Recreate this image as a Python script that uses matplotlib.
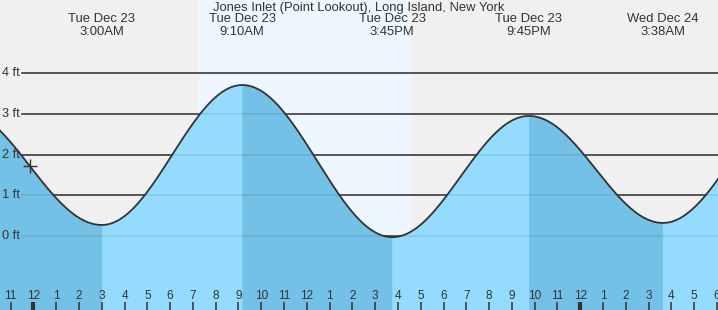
import numpy as np
import matplotlib
matplotlib.use("Agg")
import matplotlib.pyplot as plt

plt.rcParams['font.family'] = ['Liberation Sans', 'DejaVu Sans']

# Tide extremes, hours from midnight Tue Dec 23 (first and last are off-chart)
ext_hours = [-3.3, 3.0, 9.1667, 15.75, 21.75, 27.633, 33.8]
ext_feet = [3.15, 0.27, 3.71, -0.03, 2.95, 0.32, 3.55]
ext_dates = ["", "Tue Dec 23", "Tue Dec 23", "Tue Dec 23", "Tue Dec 23", "Wed Dec 24", ""]
ext_times = ["", "3:00AM", "9:10AM", "3:45PM", "9:45PM", "3:38AM", ""]

title = "Jones Inlet (Point Lookout), Long Island, New York"
sunrise, sunset = 7.265, 16.53
now_hour = -0.15
ft_levels = [0, 1, 2, 3, 4]
x_min, x_max = -1.47, 30.05
y_min, y_max = -1.82, 5.80

night_bg = "#f0f0f0"
day_bg = "#eef7ff"
rise_col = "#95dbfd"
fall_col = "#73c1e6"
ink = "#333333"


def tide(t):
    t = np.asarray(t, dtype=float)
    out = np.zeros_like(t)
    for i in range(len(ext_hours) - 1):
        t0, t1 = ext_hours[i], ext_hours[i + 1]
        h0, h1 = ext_feet[i], ext_feet[i + 1]
        m = (t >= t0) & (t <= t1)
        f = (t[m] - t0) / (t1 - t0)
        out[m] = h0 + (h1 - h0) * (1 - np.cos(np.pi * f)) / 2
    return out


fig = plt.figure(figsize=(7.18, 3.10), dpi=100)
ax = fig.add_axes([0, 0, 1, 1])
ax.set_xlim(x_min, x_max)
ax.set_ylim(y_min, y_max)
ax.axis('off')

# background: night / day
ax.axvspan(x_min - 1, x_max + 1, color=night_bg, zorder=0)
ax.axvspan(sunrise, sunset, color=day_bg, zorder=0.5)

# px -> data helpers
px_x = (x_max - x_min) / 718
px_y = (y_max - y_min) / 310

# ft grid lines + labels
for lv in ft_levels:
    ax.plot([x_min + 22 * px_x, x_max + 1], [lv, lv], color=ink, lw=1.1, zorder=1)
    ax.plot([x_min + 22 * px_x, x_max + 1], [lv, lv], color=(0, 0, 0, 0.09), lw=1.1, zorder=3)
    ax.text(x_min + 2 * px_x, lv, f"{lv} ft", fontsize=9.2, color=ink,
            ha='left', va='center', zorder=5)

# fill under curve, coloured by rising / falling
for i in range(len(ext_hours) - 1):
    t0, t1 = ext_hours[i], ext_hours[i + 1]
    tt = np.linspace(t0, t1, 400)
    col = rise_col if ext_feet[i + 1] > ext_feet[i] else fall_col
    ax.fill_between(tt, y_min - 1, tide(tt), facecolor=col, edgecolor=col,
                    lw=0.5, zorder=2)

tt = np.linspace(ext_hours[0], ext_hours[-1], 3000)
ax.plot(tt, tide(tt), color=ink, lw=1.3, zorder=4)

# current time marker
ax.plot([now_hour], tide([now_hour]), marker='+', ms=10, mew=1.0, color=ink, zorder=5)

# extreme labels and title
for h, d, tm in zip(ext_hours, ext_dates, ext_times):
    if not d:
        continue
    ax.text(h, y_max - 19 * px_y, d, fontsize=9.4, color=ink, ha='center', va='center', zorder=5)
    ax.text(h, y_max - 32 * px_y, tm, fontsize=9.4, color=ink, ha='center', va='center', zorder=5)
ax.text((x_min + x_max) / 2, y_max - 8 * px_y, title, fontsize=9.4, color=ink,
        ha='center', va='center', zorder=5)

# hour ticks along the bottom
for hr in range(int(np.ceil(x_min)), int(np.floor(x_max)) + 1):
    lab = (hr % 12) or 12
    lw = 3 if hr % 24 == 0 else 1.1
    ax.plot([hr, hr], [y_min, y_min + 8 * px_y], color=ink, lw=lw, zorder=5,
            solid_capstyle='butt')
    ax.text(hr, y_min + 14 * px_y, str(lab), fontsize=8.5, color=ink,
            ha='center', va='center', zorder=5)

fig.savefig("out.png", dpi=100)
